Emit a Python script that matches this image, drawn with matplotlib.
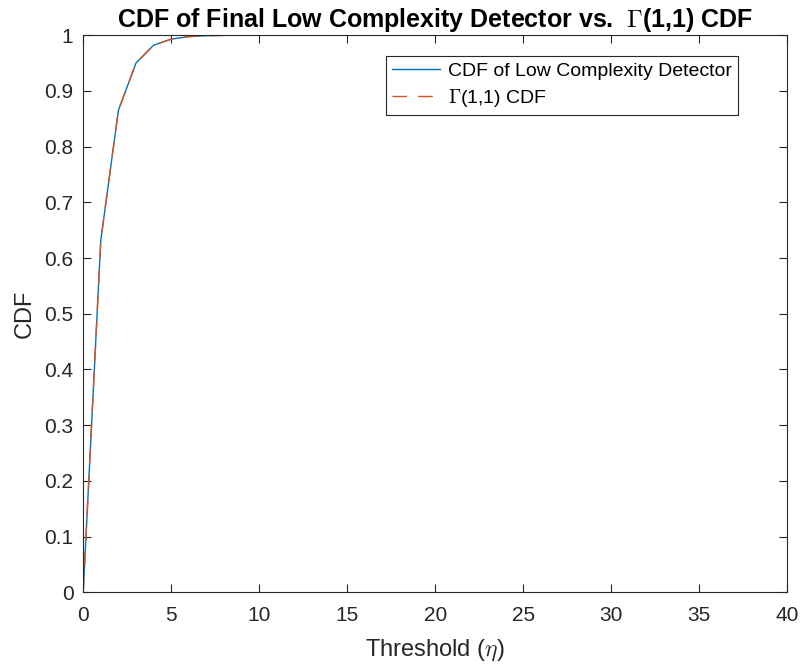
import matplotlib
matplotlib.use("Agg")
import matplotlib.pyplot as plt

plt.rcParams['font.family'] = ['Liberation Sans', 'DejaVu Sans']
plt.rcParams['mathtext.fontset'] = 'cm'

threshold = list(range(0, 41))
cdf_detector = [0.0, 0.632, 0.865, 0.950, 0.982, 0.993, 0.9975, 0.9991, 0.9997, 0.9999] + [1.0] * 31
cdf_gamma = [0.0, 0.632, 0.865, 0.950, 0.982, 0.993, 0.9975, 0.9991, 0.9997, 0.9999] + [1.0] * 31

xticks = [0, 5, 10, 15, 20, 25, 30, 35, 40]
yticks = [0, 0.1, 0.2, 0.3, 0.4, 0.5, 0.6, 0.7, 0.8, 0.9, 1]

fig = plt.figure(figsize=(8, 6.64), dpi=100)
ax = fig.add_axes([0.104, 0.108, 0.880, 0.839])

ax.plot(threshold, cdf_detector, color='#0072BD', lw=1.0, label='CDF of Low Complexity Detector')
ax.plot(threshold, cdf_gamma, color='#D95319', lw=1.0, ls=(0, (10.5, 8)), label=r'$\Gamma$(1,1) CDF')

ax.set_xlim(0, 40)
ax.set_ylim(0, 1)
ax.set_xticks(xticks)
ax.set_yticks(yticks)
ax.set_yticklabels(['0', '0.1', '0.2', '0.3', '0.4', '0.5', '0.6', '0.7', '0.8', '0.9', '1'])
axcol = '#262626'
for s in ax.spines.values():
    s.set_color(axcol)
    s.set_linewidth(0.8)
ax.tick_params(direction='in', top=True, right=True, length=6, width=0.8,
               colors=axcol, labelsize=15)
ax.tick_params(axis='x', pad=10)
ax.tick_params(axis='y', pad=7)
ax.set_xlabel(r'Threshold ($\eta$)', fontsize=17, color=axcol, labelpad=9)
ax.set_ylabel('CDF', fontsize=17, color=axcol, labelpad=6)
ax.set_title(r'CDF of Final Low Complexity Detector vs.  $\Gamma$(1,1) CDF',
             fontsize=18, fontweight='bold', pad=6)

leg = ax.legend(loc='upper right', bbox_to_anchor=(0.93, 0.962), fontsize=14,
                frameon=True, fancybox=False, edgecolor=axcol, framealpha=1,
                handlelength=2.5, borderpad=0.3, labelspacing=0.38, handletextpad=0.4,
                borderaxespad=0)
leg.get_frame().set_linewidth(0.8)

fig.savefig('out.png', dpi=100)
